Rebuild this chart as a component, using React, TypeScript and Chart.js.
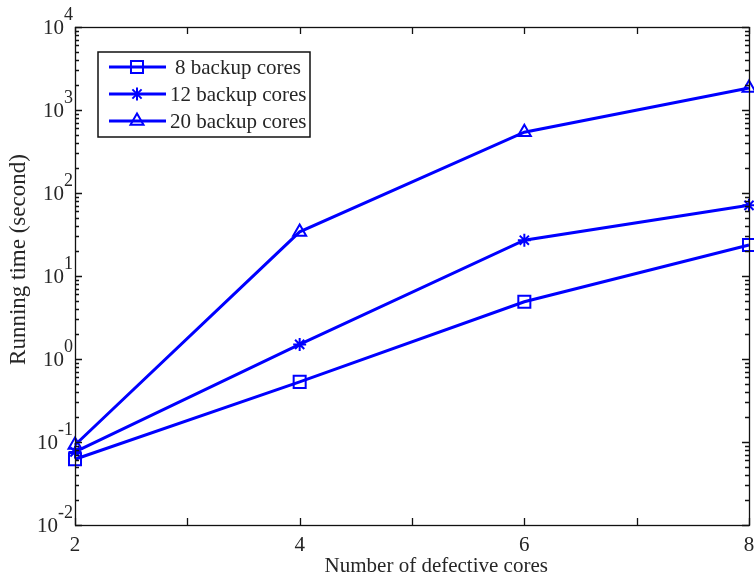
import React, { useEffect, useRef } from 'react';
import { Chart, registerables } from 'chart.js';

Chart.register(...registerables);

// ---- data ----
const defectiveCores = [2, 4, 6, 8];
const backup8 = [0.062, 0.53, 4.9, 23.6];
const backup12 = [0.076, 1.5, 27, 71];
const backup20 = [0.092, 34, 540, 1840];
const seriesLabels = ['8 backup cores', '12 backup cores', '20 backup cores'];
const seriesMarkers = ['rect', 'star', 'triangle'];
const xTickLabels = [2, 4, 6, 8];
const yTickExponents = [-2, -1, 0, 1, 2, 3, 4];
const xTitle = 'Number of defective cores';
const yTitle = 'Running time (second)';

const BLUE = '#0000ff';
const TEXT = '#262626';
const FONT = '"Liberation Serif", "Times New Roman", serif';

function markerPath(ctx: CanvasRenderingContext2D, style: string, x: number, y: number, r: number) {
  ctx.beginPath();
  if (style === 'rect') {
    const s = Math.SQRT1_2 * r;
    ctx.rect(x - s, y - s, 2 * s, 2 * s);
  } else if (style === 'triangle') {
    for (let i = 0; i < 3; i++) {
      const a = -Math.PI / 2 + (i * 2 * Math.PI) / 3;
      const px = x + Math.cos(a) * r;
      const py = y + Math.sin(a) * r;
      if (i === 0) ctx.moveTo(px, py);
      else ctx.lineTo(px, py);
    }
    ctx.closePath();
  } else {
    for (let i = 0; i < 4; i++) {
      const a = (i * Math.PI) / 4;
      ctx.moveTo(x - Math.cos(a) * r, y - Math.sin(a) * r);
      ctx.lineTo(x + Math.cos(a) * r, y + Math.sin(a) * r);
    }
  }
  ctx.stroke();
}

const axesPlugin = {
  id: 'matlabAxes',
  afterDraw(chart: any) {
    const ctx: CanvasRenderingContext2D = chart.ctx;
    const { left, right, top, bottom } = chart.chartArea;
    const xs = chart.scales.x;
    const ys = chart.scales.y;
    ctx.save();
    ctx.strokeStyle = '#111';
    ctx.lineWidth = 1.3;
    ctx.strokeRect(Math.round(left) + 0.5, Math.round(top) + 0.5, Math.round(right - left), Math.round(bottom - top));

    // x ticks (inward, bottom and top)
    ctx.beginPath();
    for (let v = defectiveCores[0]; v <= defectiveCores[defectiveCores.length - 1]; v++) {
      const px = Math.round(xs.getPixelForValue(v)) + 0.5;
      ctx.moveTo(px, bottom);
      ctx.lineTo(px, bottom - 7);
      ctx.moveTo(px, top);
      ctx.lineTo(px, top + 7);
    }
    // y ticks (inward, left and right)
    for (let i = 0; i < yTickExponents.length; i++) {
      const e = yTickExponents[i];
      const base = Math.pow(10, e);
      const py = Math.round(ys.getPixelForValue(base)) + 0.5;
      ctx.moveTo(left, py);
      ctx.lineTo(left + 7, py);
      ctx.moveTo(right, py);
      ctx.lineTo(right - 7, py);
      if (i < yTickExponents.length - 1) {
        for (let m = 2; m <= 9; m++) {
          const pm = Math.round(ys.getPixelForValue(m * base)) + 0.5;
          ctx.moveTo(left, pm);
          ctx.lineTo(left + 4, pm);
          ctx.moveTo(right, pm);
          ctx.lineTo(right - 4, pm);
        }
      }
    }
    ctx.stroke();

    // x tick labels
    ctx.fillStyle = TEXT;
    ctx.font = `21px ${FONT}`;
    ctx.textAlign = 'center';
    ctx.textBaseline = 'middle';
    for (const v of xTickLabels) {
      ctx.fillText(String(v), xs.getPixelForValue(v), bottom + 20);
    }

    // y tick labels 10^e
    for (const e of yTickExponents) {
      const py = ys.getPixelForValue(Math.pow(10, e));
      const expText = e < 0 ? '-' + Math.abs(e) : String(e);
      ctx.font = `18px ${FONT}`;
      const ew = ctx.measureText(expText).width;
      const rightEdge = left - 2;
      ctx.textAlign = 'left';
      ctx.fillText(expText, rightEdge - ew, py - 12);
      ctx.font = `21px ${FONT}`;
      ctx.textAlign = 'right';
      ctx.fillText('10', rightEdge - ew, py + 1);
    }

    // axis titles
    ctx.font = `21px ${FONT}`;
    ctx.textAlign = 'center';
    ctx.textBaseline = 'middle';
    ctx.fillText(xTitle, left + (right - left) * 0.536, 566);
    ctx.save();
    ctx.translate(19, top + (bottom - top) * 0.467);
    ctx.rotate(-Math.PI / 2);
    ctx.font = `23px ${FONT}`;
    ctx.fillText(yTitle, 0, 0);
    ctx.restore();

    // legend
    const bx = left + 23;
    const by = top + 25;
    const bw = 212;
    const bh = 85;
    ctx.fillStyle = '#fff';
    ctx.fillRect(bx, by, bw, bh);
    ctx.strokeStyle = '#111';
    ctx.lineWidth = 1.5;
    ctx.strokeRect(bx, by, bw, bh);
    ctx.font = `21px ${FONT}`;
    ctx.textAlign = 'left';
    ctx.textBaseline = 'middle';
    chart.data.datasets.forEach((ds: any, i: number) => {
      const ry = by + 15 + i * 27;
      ctx.strokeStyle = ds.borderColor;
      ctx.lineWidth = ds.borderWidth;
      ctx.beginPath();
      ctx.moveTo(bx + 11, ry);
      ctx.lineTo(bx + 68, ry);
      ctx.stroke();
      ctx.lineWidth = ds.pointBorderWidth;
      markerPath(ctx, ds.pointStyle, bx + 39, ry, ds.pointRadius);
      ctx.fillStyle = TEXT;
      ctx.fillText(ds.label, bx + (i === 0 ? 77 : 72), ry + 1);
    });
    ctx.restore();
  },
};

export default function App() {
  const ref = useRef<HTMLCanvasElement | null>(null);
  useEffect(() => {
    if (!ref.current) return;
    const series = [backup8, backup12, backup20];
    const radii = [8.5, 6.5, 7.5];
    const chart = new Chart(ref.current, {
      type: 'line',
      data: {
        datasets: series.map((vals, i) => ({
          label: seriesLabels[i],
          data: defectiveCores.map((x, j) => ({ x, y: vals[j] })),
          borderColor: BLUE,
          backgroundColor: 'rgba(0,0,0,0)',
          borderWidth: 3,
          pointStyle: seriesMarkers[i] as any,
          pointRadius: radii[i],
          pointBorderWidth: 2,
          pointBorderColor: BLUE,
          pointBackgroundColor: 'rgba(0,0,0,0)',
          tension: 0,
          fill: false,
          clip: 12,
        })),
      },
      plugins: [axesPlugin],
      options: {
        animation: false,
        responsive: false,
        devicePixelRatio: 1,
        layout: { autoPadding: false, padding: { top: 27, right: 5, left: 0, bottom: 0 } },
        plugins: { legend: { display: false }, tooltip: { enabled: false } },
        scales: {
          x: {
            type: 'linear',
            min: 2,
            max: 8,
            grid: { display: false, drawTicks: false },
            border: { display: false },
            ticks: { display: false, stepSize: 1 },
            title: { display: false },
            afterFit: (s: any) => {
              s.height = 55;
            },
          },
          y: {
            type: 'logarithmic',
            min: 0.01,
            max: 10000,
            grid: { display: false, drawTicks: false },
            border: { display: false },
            ticks: { display: false },
            title: { display: false },
            afterFit: (s: any) => {
              s.width = 75;
            },
          },
        },
      },
    });
    return () => chart.destroy();
  }, []);
  return (
    <div style={{ position: 'absolute', left: 0, top: 0, width: 754, height: 580, background: '#fff' }}>
      <canvas ref={ref} width={754} height={580} style={{ display: 'block' }} />
    </div>
  );
}
